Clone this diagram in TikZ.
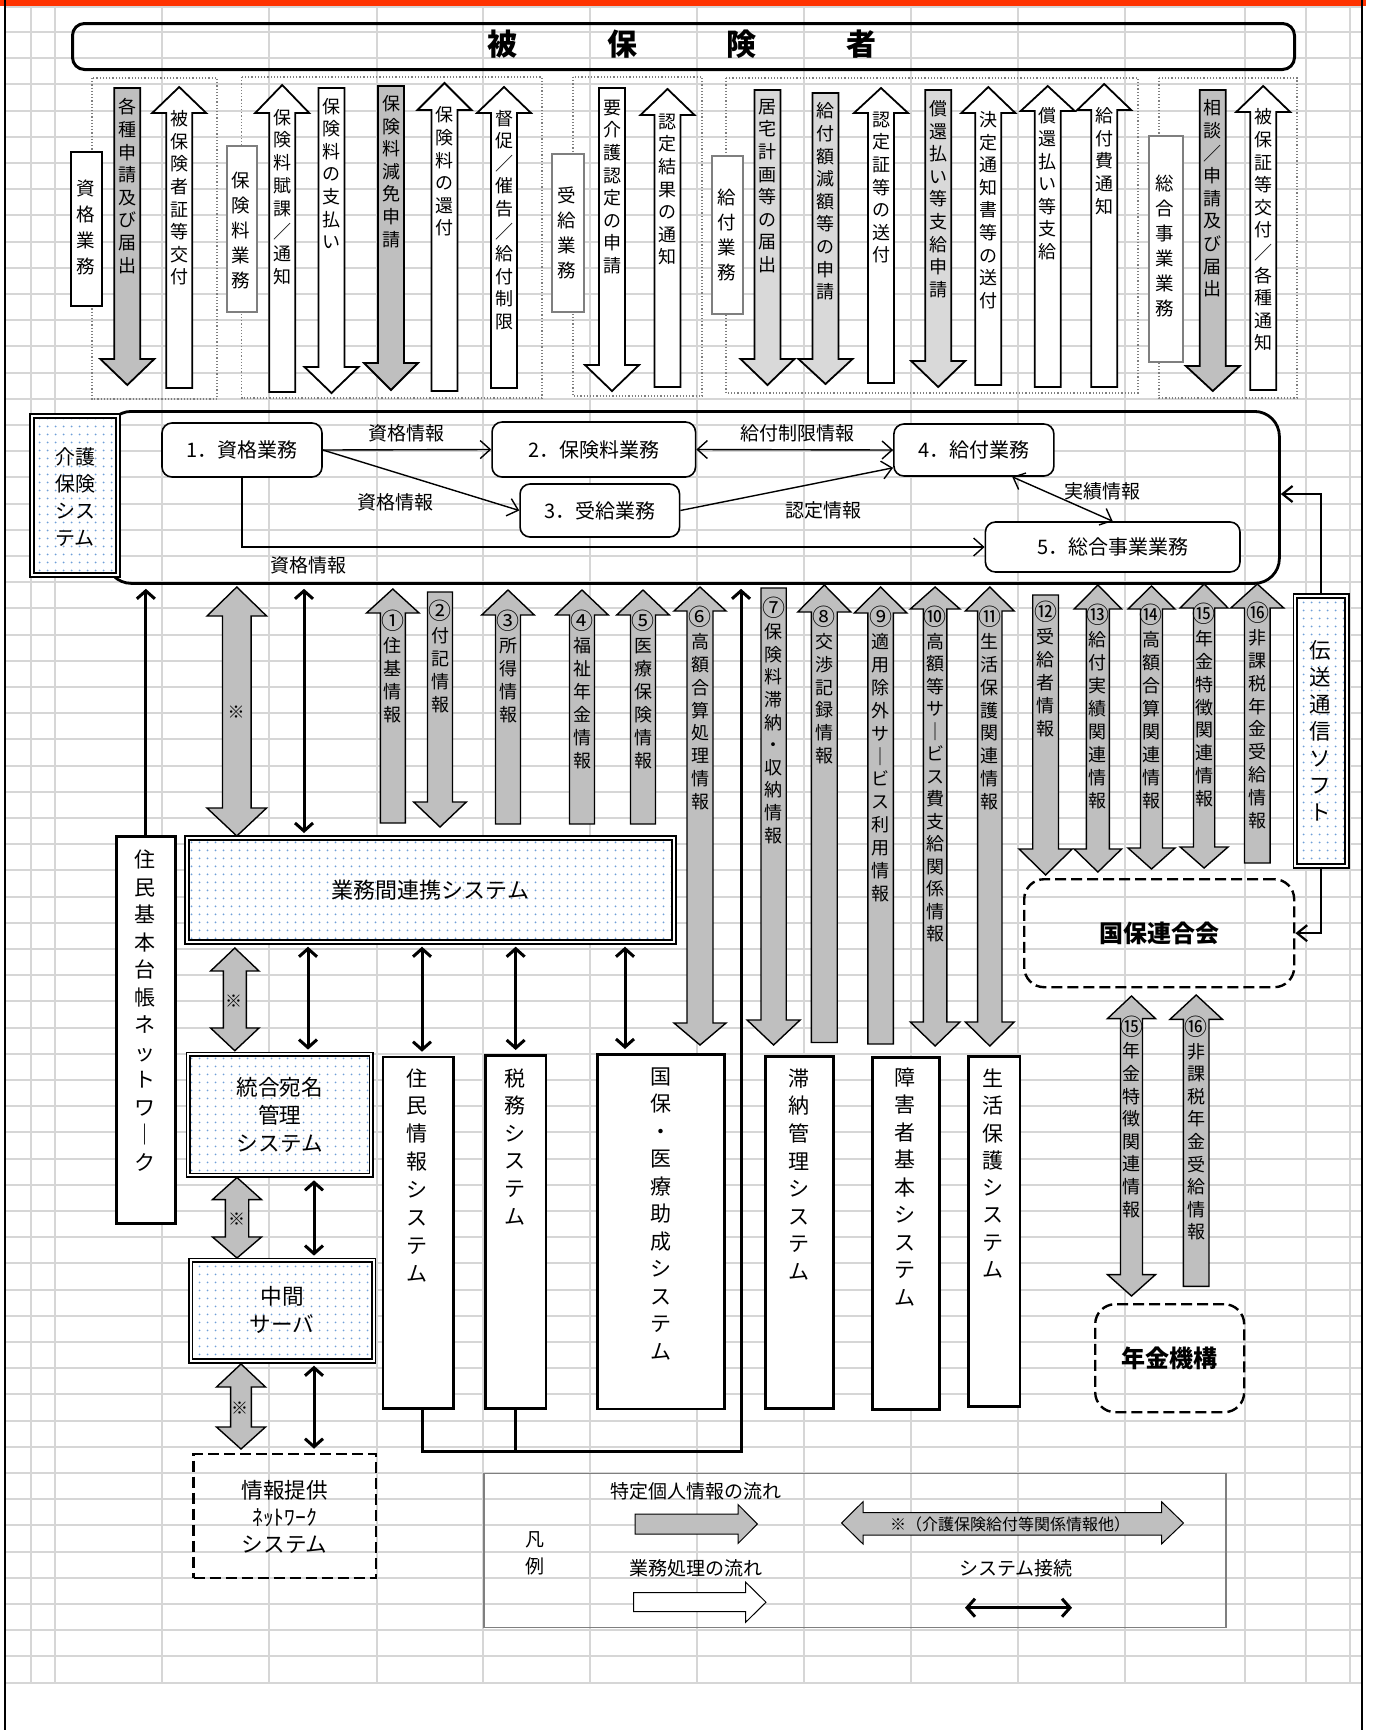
\documentclass[tikz,border=0pt]{standalone}
\usepackage{fontspec}
\setmainfont{Noto Sans CJK JP}
\usetikzlibrary{arrows.meta,patterns.meta}
\definecolor{gridc}{HTML}{D6D6D6}
\definecolor{grpc}{HTML}{7F7F7F}
\definecolor{lbc}{HTML}{7F7F7F}
\definecolor{gac}{HTML}{BFBFBF}
\definecolor{lgac}{HTML}{D9D9D9}
\definecolor{dotc}{HTML}{6F9FD8}
\definecolor{redc}{HTML}{FF3300}

% vertical (tategaki) text: one character per line
\makeatletter
\newcommand\tate[2]{\vbox{\baselineskip=#1\lineskiplimit=-\maxdimen\lineskip=0pt
  \@tfor\tate@c:=#2\do{\hbox to 1.1em{\hss\tate@c\hss}}}}
\makeatother
% circled numbers a little larger
\newcommand\cn[1]{{\fontsize{11.5pt}{11.5pt}\selectfont#1}}

% box node from corner to corner (pixel units)
\newcommand\bx[6][]{\node[#1, anchor=north west, inner sep=0pt,
  minimum width={(#4-#2)*0.5pt}, minimum height={(#5-#3)*0.5pt}] (#6) at (#2,#3) {};}

% block arrows: shaft half width \shw, head half width \hhw
\def\shw{13}\def\hhw{27}
\newcommand\uarr[5]{\draw[#1] (#2-\shw,#5) -- (#2-\shw,#4) -- (#2-\hhw,#4) -- (#2,#3)
  -- (#2+\hhw,#4) -- (#2+\shw,#4) -- (#2+\shw,#5) -- cycle;}
\newcommand\darr[5]{\draw[#1] (#2-\shw,#3) -- (#2-\shw,#4) -- (#2-\hhw,#4) -- (#2,#5)
  -- (#2+\hhw,#4) -- (#2+\shw,#4) -- (#2+\shw,#3) -- cycle;}
\newcommand\barr[6]{\draw[#1] (#2,#3) -- (#2+\hhw,#4) -- (#2+\shw,#4) -- (#2+\shw,#5)
  -- (#2+\hhw,#5) -- (#2,#6) -- (#2-\hhw,#5) -- (#2-\shw,#5) -- (#2-\shw,#4) -- (#2-\hhw,#4) -- cycle;}
\newcommand\rarr[7]{\draw[#1] (#2,#5-#6) -- (#3,#5-#6) -- (#3,#5-#7) -- (#4,#5)
  -- (#3,#5+#7) -- (#3,#5+#6) -- (#2,#5+#6) -- cycle;}

\tikzset{
  gridln/.style={draw=gridc, line width=1pt},
  grp/.style={draw=grpc, densely dotted, line width=0.6pt},
  hibox/.style={draw, line width=1.5pt, rounded corners=6pt},
  kbox/.style={draw, fill=white, line width=0.8pt},
  gbox/.style={draw=lbc, fill=white, line width=1pt},
  mainbox/.style={draw, line width=1.4pt, rounded corners=12.5pt},
  proc/.style={draw, fill=white, line width=0.8pt, rounded corners=5pt, inner sep=0pt,
    font=\fontsize{10pt}{12pt}\selectfont},
  sysb/.style={draw, fill=white, line width=1.35pt},
  dotbox/.style={preaction={fill=white}, pattern={Dots[distance=4pt,radius=0.55pt]},
    pattern color=dotc, draw, double, double distance=1pt, line width=0.85pt},
  dashr/.style={draw, line width=1.2pt, dash pattern=on 5.5pt off 2.5pt, rounded corners=10pt},
  dashs/.style={draw, line width=1.2pt, dash pattern=on 5.5pt off 2.5pt},
  legb/.style={draw=lbc, line width=0.8pt},
  wa/.style={draw, fill=white, line width=0.9pt},
  ga/.style={draw, fill=gac, line width=0.9pt},
  la/.style={draw, fill=lgac, line width=0.9pt},
  ia/.style={draw, fill=gac, line width=0.7pt},
  lga/.style={draw, fill=gac, line width=0.5pt},
  lwa/.style={draw, fill=white, line width=0.5pt},
  vlab/.style={inner sep=0pt, font=\fontsize{9pt}{9pt}\selectfont},
  boxlab/.style={inner sep=0pt, font=\fontsize{9.25pt}{9.25pt}\selectfont},
  stxt/.style={inner sep=0pt, font=\fontsize{10.5pt}{10.5pt}\selectfont},
  lbl/.style={inner sep=0pt, font=\fontsize{9.5pt}{11pt}\selectfont},
  smalltxt/.style={inner sep=0pt, font=\fontsize{8pt}{10pt}\selectfont},
  refmark/.style={inner sep=0pt, font=\fontsize{8.5pt}{9pt}\selectfont},
  big/.style={inner sep=0pt, align=center, font=\fontsize{10.8pt}{13.8pt}\selectfont},
  boldtxt/.style={inner sep=0pt, font=\bfseries\fontsize{12pt}{14pt}\selectfont},
  titletxt/.style={inner sep=0pt, font=\bfseries\fontsize{15pt}{17pt}\selectfont},
  flow/.style={line width=0.7pt, -{Straight Barb[length=5pt,width=9pt]}},
  flowb/.style={line width=0.7pt, {Straight Barb[length=5pt,width=9pt]}-{Straight Barb[length=5pt,width=9pt]}},
  link/.style={line width=1.5pt, {Straight Barb[length=4pt,width=9pt]}-{Straight Barb[length=4pt,width=9pt]}},
  linkup/.style={line width=1.5pt, -{Straight Barb[length=4pt,width=9pt]}},
  gap/.style={shorten <=2pt, shorten >=2pt},
  tlink/.style={line width=1.1pt, -{Straight Barb[length=5pt,width=8pt]}},
}

\begin{document}
\begin{tikzpicture}[x=0.5pt, y=-0.5pt]
\useasboundingbox (0,0) rectangle (1374,1730);
% sheet grid
\foreach \gx in {31,55,162,269,377,483,590,697,804,911,1018,1125,1245,1306,1350}
  \draw[gridln] (\gx,7) -- (\gx,1683);
\draw[gridln] (5,7) -- (1362,7);
\foreach \k in {0,...,63}
  \draw[gridln] (5,32+26.2*\k) -- (1362,32+26.2*\k);
\fill[redc] (0,0) rectangle (1366,6);
\draw[line width=1pt] (5,0) -- (5,1730);
\draw[line width=1pt] (1362,0) -- (1362,1730);

% insured person
\bx[hibox]{71}{22}{1293}{68}{hiho}
\node[titletxt] (hihoT) at (682,44) {被\hspace{44.75pt}保\hspace{44.75pt}険\hspace{44.75pt}者};

% work groups
\draw[grp] (92,78) rectangle (217,399);
\draw[grp] (241.5,77) rectangle (542,398);
\draw[grp] (573,77) rectangle (702,396);
\draw[grp] (726,78) rectangle (1138,393);
\draw[grp] (1159,78) rectangle (1297,398);

\bx[kbox]{70}{151}{101}{305}{gShikaku}
\node[boxlab] (gShikakuT) at (85.5,227.5) {\tate{13.1pt}{資格業務}};
\bx[gbox]{226}{145}{256}{311}{gHoken}
\node[boxlab] (gHokenT) at (241,230) {\tate{12.5pt}{保険料業務}};
\bx[gbox]{551}{153}{583}{311}{gJukyu}
\node[boxlab] (gJukyuT) at (567,232.5) {\tate{12.5pt}{受給業務}};
\bx[gbox]{711}{155}{742}{313}{gKyufu}
\node[boxlab] (gKyufuT) at (726.5,234.5) {\tate{12.5pt}{給付業務}};
\bx[gbox]{1148}{135}{1182}{361}{gSogo}
\node[boxlab] (gSogoT) at (1165,245.5) {\tate{12.5pt}{総合事業業務}};

% flows between insured person and the system
\darr{ga}{127.3}{88}{359}{385}
\node[vlab] (fa) at (127.3,186) {\tate{11.3pt}{各種申請及び届出}};
\uarr{wa}{179.2}{87}{113}{388}
\node[vlab] (fb) at (179.2,198) {\tate{11.3pt}{被保険者証等交付}};
\uarr{wa}{282.2}{85}{113}{392}
\node[vlab] (fc) at (282.2,197) {\tate{11.4pt}{保険料賦課／通知}};
\darr{wa}{331.5}{88}{367}{393}
\node[vlab] (fd) at (331.5,173.5) {\tate{11.3pt}{保険料の支払い}};
\darr{ga}{391}{86}{363}{390}
\node[vlab] (fe) at (391,171.5) {\tate{11.3pt}{保険料減免申請}};
\uarr{wa}{444.5}{83}{110}{391}
\node[vlab] (ff) at (444.5,171.5) {\tate{11.3pt}{保険料の還付}};
\uarr{wa}{504}{87}{113}{388}
\node[vlab] (fg) at (504,220) {\tate{11.3pt}{督促／催告／給付制限}};
\darr{wa}{612}{88}{365}{391}
\node[vlab] (fh) at (612,187) {\tate{11.3pt}{要介護認定の申請}};
\uarr{wa}{667.5}{89}{115}{387}
\node[vlab] (fi) at (667.5,189.5) {\tate{11.3pt}{認定結果の通知}};
\darr{la}{767.5}{90}{359}{385}
\node[vlab] (fj) at (767.5,186) {\tate{11.3pt}{居宅計画等の届出}};
\darr{la}{825.5}{93}{359}{384}
\node[vlab] (fk) at (825.5,201.5) {\tate{11.3pt}{給付額減額等の申請}};
\uarr{wa}{881}{88}{113}{383}
\node[vlab] (fl) at (881,187.5) {\tate{11.3pt}{認定証等の送付}};
\darr{la}{938.2}{90}{361}{387}
\node[vlab] (fm) at (938.2,199) {\tate{11.3pt}{償還払い等支給申請}};
\uarr{wa}{988.3}{87}{113}{385}
\node[vlab] (fn) at (988.3,210) {\tate{11.3pt}{決定通知書等の送付}};
\uarr{wa}{1047.7}{86}{111}{387}
\node[vlab] (fo) at (1047.7,184) {\tate{11.3pt}{償還払い等支給}};
\uarr{wa}{1104.2}{84}{110}{387}
\node[vlab] (fp) at (1104.2,161) {\tate{11.3pt}{給付費通知}};
\darr{ga}{1212.8}{90}{366}{391}
\node[vlab] (fq) at (1212.8,198.5) {\tate{11.3pt}{相談／申請及び届出}};
\uarr{wa}{1263.2}{86}{112}{390}
\node[vlab] (fr) at (1263.2,230) {\tate{11.3pt}{被保証等交付／各種通知}};

% care insurance system
\bx[mainbox]{105}{410}{1278}{582}{sys}
\bx[dotbox]{31}{415}{117}{574}{kaigo}
\node[big, font=\fontsize{10pt}{13.5pt}\selectfont] (kaigoT) at (75,497) {介護\\保険\\シス\\テム};
\node[proc, minimum width=80pt, minimum height=27pt] (n1) at (242,450) {1．資格業務};
\node[proc, minimum width=101.75pt, minimum height=27.5pt] (n2) at (593.8,449.5) {2．保険料業務};
\node[proc, minimum width=79.75pt, minimum height=26.5pt] (n3) at (599.8,510.5) {3．受給業務};
\node[proc, minimum width=80pt, minimum height=26pt] (n4) at (973.9,450) {4．給付業務};
\node[proc, minimum width=127.3pt, minimum height=25pt] (n5) at (1112.7,547) {5．総合事業業務};
\draw[flow] (n1.east) -- (n2.west);
\draw[flow] (n1.east) -- (n3.west);
\draw[flow] (n1.south) |- (n5.west);
\draw[flowb] (n2.east) -- (n4.west);
\draw[flow] (n3.east) -- ([yshift=4.5pt]n4.south west);
\draw[flowb] (n4.325) -- (n5.north);
\node[lbl] (l12) at (406,433) {資格情報};
\node[lbl] (l13) at (395,502) {資格情報};
\node[lbl] (l15) at (308,565) {資格情報};
\node[lbl] (l24) at (797.3,433) {給付制限情報};
\node[lbl] (l34) at (823.9,510) {認定情報};
\node[lbl] (l45) at (1102.7,491) {実績情報};

% linked systems
\bx[sysb]{115}{835}{174}{1222}{juki}
\node[stxt] (jukiT) at (144.5,1010.7) {\tate{13.75pt}{住民基本台帳ネットワ｜ク}};
\bx[dotbox]{186}{837}{673}{941}{renkei}
\node[big, font=\fontsize{11pt}{13pt}\selectfont] (renkeiT) at (renkei) {業務間連携システム};
\bx[dotbox]{187.5}{1053.6}{370.5}{1174.6}{tougou}
\node[big] (tougouT) at (tougou) {統合宛名\\管理\\システム};
\bx[dotbox]{189.7}{1259.6}{372.8}{1360}{chukan}
\node[big, font=\fontsize{10.8pt}{14.3pt}\selectfont] (chukanT) at (282,1310) {中間\\サーバ};
\bx[dashs]{192.3}{1452.7}{375}{1576.7}{teikyo}
\node[big, font=\fontsize{10.8pt}{13.7pt}\selectfont] (teikyoT) at (284.7,1517) {情報提供\\ﾈｯﾄﾜｰｸ\\システム};
\bx[sysb]{381.7}{1055.7}{451.8}{1407}{jumin}
\node[stxt] (juminT) at (416.5,1175.2) {\tate{13.95pt}{住民情報システム}};
\bx[sysb]{484}{1054}{544.6}{1407}{zeimu}
\node[stxt] (zeimuT) at (514.7,1146.6) {\tate{13.8pt}{税務システム}};
\bx[sysb]{596}{1053}{723.4}{1407.7}{kokuho}
\node[stxt] (kokuhoT) at (660.7,1213.7) {\tate{13.75pt}{国保・医療助成システム}};
\bx[sysb]{764.1}{1055}{831.8}{1407}{tainou}
\node[stxt] (tainouT) at (798.6,1174.5) {\tate{13.8pt}{滞納管理システム}};
\bx[sysb]{871.2}{1056}{938}{1408}{shogai}
\node[stxt] (shogaiT) at (904.9,1187) {\tate{13.75pt}{障害者基本システム}};
\bx[sysb]{966.9}{1055}{1018.6}{1405}{seiho}
\node[stxt] (seihoT) at (993,1173.5) {\tate{13.65pt}{生活保護システム}};
\bx[dotbox]{1294.4}{595}{1346.2}{865}{densou}
\node[stxt, font=\fontsize{10.75pt}{10.75pt}\selectfont] (densouT) at (1320.3,730.8) {\tate{13.5pt}{伝送通信ソフト}};
\bx[dashr]{1023}{878}{1293}{986}{rengo}
\node[boldtxt] (rengoT) at (rengo) {国保連合会};
\bx[dashr]{1094}{1303}{1243}{1411}{nenkin}
\node[boldtxt] (nenkinT) at (nenkin) {年金機構};

% information flows (specific personal information)
\def\shw{14.3}\def\hhw{29.8}
\barr{ia}{236.8}{587}{616}{808}{836}
\node[refmark] (m0) at (236,712) {※};
\def\shw{12.5}\def\hhw{26.3}
\uarr{ia}{392.8}{589}{613}{823}
\node[vlab] (i1) at (392.8,666) {\tate{11.5pt}{{\cn{①}}住基情報}};
\darr{ia}{440}{592}{802}{827}
\node[vlab] (i2) at (440,656) {\tate{11.5pt}{{\cn{②}}付記情報}};
\uarr{ia}{508}{590}{615}{824}
\node[vlab] (i3) at (508,666) {\tate{11.5pt}{{\cn{③}}所得情報}};
\uarr{ia}{582}{590}{615}{824}
\node[vlab] (i4) at (582,689) {\tate{11.5pt}{{\cn{④}}福祉年金情報}};
\uarr{ia}{643}{590}{615}{824}
\node[vlab] (i5) at (643,689) {\tate{11.5pt}{{\cn{⑤}}医療保険情報}};
\def\shw{13}\def\hhw{26}
\barr{ia}{700}{587}{611}{1023}{1045}
\node[vlab] (i6) at (700,708) {\tate{11.45pt}{{\cn{⑥}}高額合算処理情報}};
\def\shw{12.6}\def\hhw{26.5}
\darr{ia}{773.6}{588}{1020}{1045}
\node[vlab] (i7) at (773.8,720) {\tate{11.3pt}{{\cn{⑦}}保険料滞納・収納情報}};
\def\shw{12.9}
\uarr{ia}{824.3}{585}{612}{1042.5}
\node[vlab] (i8) at (824.3,685) {\tate{11.35pt}{{\cn{⑧}}交渉記録情報}};
\def\shw{12.7}\def\hhw{26.3}
\uarr{ia}{880.6}{587}{613}{1044}
\node[vlab] (i9) at (880.6,754) {\tate{11.45pt}{{\cn{⑨}}適用除外サ｜ビス利用情報}};
\def\shw{11.7}\def\hhw{24.8}
\barr{ia}{935.1}{587}{609}{1022}{1046}
\node[vlab] (i10) at (935.3,774) {\tate{11.25pt}{{\cn{⑩}}高額等サ｜ビス費支給関係情報}};
\def\shw{12.2}\def\hhw{24.4}
\barr{ia}{989.8}{587}{611}{1022}{1046}
\node[vlab] (i11) at (989.9,708) {\tate{11.45pt}{{\cn{⑪}}生活保護関連情報}};
\def\shw{12.9}\def\hhw{26.6}
\darr{ia}{1045.6}{595}{849}{875}
\node[vlab] (i12) at (1045.6,669) {\tate{11.5pt}{{\cn{⑫}}受給者情報}};
\def\shw{11.5}\def\hhw{23.7}
\barr{ia}{1097.9}{585}{609}{849}{872}
\node[vlab] (i13) at (1097.6,706.5) {\tate{11.45pt}{{\cn{⑬}}給付実績関連情報}};
\def\shw{11}\def\hhw{23.5}
\barr{ia}{1151.5}{586}{609}{848}{869}
\node[vlab] (i14) at (1151.4,706.5) {\tate{11.45pt}{{\cn{⑭}}高額合算関連情報}};
\def\shw{10.6}\def\hhw{23.9}
\barr{ia}{1204.1}{584}{608}{847}{868}
\node[vlab] (i15) at (1204.4,705) {\tate{11.45pt}{{\cn{⑮}}年金特徴関連情報}};
\def\shw{12.8}\def\hhw{26.5}
\uarr{ia}{1257.3}{584}{608}{863}
\node[vlab] (i16) at (1257.5,715.5) {\tate{11.4pt}{{\cn{⑯}}非課税年金受給情報}};
\def\shw{11}\def\hhw{24}
\barr{ia}{1131.5}{996}{1018.6}{1274.6}{1296}
\node[vlab] (j15) at (1131.5,1116.6) {\tate{11.3pt}{{\cn{⑮}}年金特徴関連情報}};
\def\shw{12.8}\def\hhw{26.2}
\uarr{ia}{1196.2}{995}{1019.3}{1286.4}
\node[vlab] (j16) at (1196.4,1128.2) {\tate{11.3pt}{{\cn{⑯}}非課税年金受給情報}};
\def\shw{11.5}\def\hhw{24.2}
\barr{ia}{234.8}{948}{971}{1028}{1050.7}
\node[refmark] (m1) at (233.5,1000.7) {※};
\def\shw{11.7}\def\hhw{24.5}
\barr{ia}{237}{1177.5}{1199.6}{1237}{1258}
\node[refmark] (m2) at (236.6,1219) {※};
\def\shw{10.4}\def\hhw{24.5}
\barr{ia}{241}{1364}{1387}{1427}{1449}
\node[refmark] (m3) at (239.5,1408) {※};

% system connections
\coordinate (x304) at (304,0);
\coordinate (x308) at (308,0);
\coordinate (x314) at (314,0);
\coordinate (x422) at (422,0);
\coordinate (x625) at (625,0);
\coordinate (jn) at (741,1451);
\coordinate (dy) at (0,494);
\draw[link, gap] (sys.south -| x304) -- (renkei.north -| x304);
\draw[linkup, shorten >=2pt] (juki.north) -- (sys.south -| juki.north);
\draw[link, gap] (renkei.south -| x308) -- (tougou.north -| x308);
\draw[link, gap] (renkei.south -| x422) -- (jumin.north -| x422);
\draw[link, gap] (renkei.south -| zeimu.north) -- (zeimu.north);
\draw[link, gap] (renkei.south -| x625) -- (kokuho.north -| x625);
\draw[link, gap] (tougou.south -| x314) -- (chukan.north -| x314);
\draw[link, gap] (chukan.south -| x314) -- (teikyo.north -| x314);
\draw[linkup, shorten >=2pt] (jumin.south -| x422) |- (jn) -- (sys.south -| jn);
\draw[line width=1.5pt] (zeimu.south) -- (zeimu.south |- jn);
\draw[tlink] (densou.north) |- (sys.east |- dy);
\draw[tlink] (densou.south) |- (rengo.east);

% legend
\bx[legb]{483}{1472.7}{1225}{1626.7}{legend}
\node[lbl] (lgHan) at (534.7,1540) {凡};
\node[lbl] (lgRei) at (534.7,1566) {例};
\node[lbl] (lgT1) at (695.7,1491.7) {特定個人情報の流れ};
\rarr{lga}{635}{738}{757.4}{1524}{10}{19.5}
\node[lbl] (lgT2) at (695.7,1568) {業務処理の流れ};
\rarr{lwa}{633.5}{745.7}{766}{1602.2}{9.5}{20}
\draw[lga] (841.6,1523) -- (863,1501.7) -- (863,1512.7) -- (1161.5,1512.7) -- (1161.5,1501.7)
  -- (1183.5,1523) -- (1161.5,1544) -- (1161.5,1535) -- (863,1535) -- (863,1544) -- cycle;
\node[smalltxt] (lgT3) at (1010,1524) {※（介護保険給付等関係情報他）};
\node[lbl] (lgT4) at (1016,1568) {システム接続};
\coordinate (lgA) at (965,1607.7);
\coordinate (lgB) at (1072,1607.7);
\draw[link] (lgA) -- (lgB);
\end{tikzpicture}
\end{document}
